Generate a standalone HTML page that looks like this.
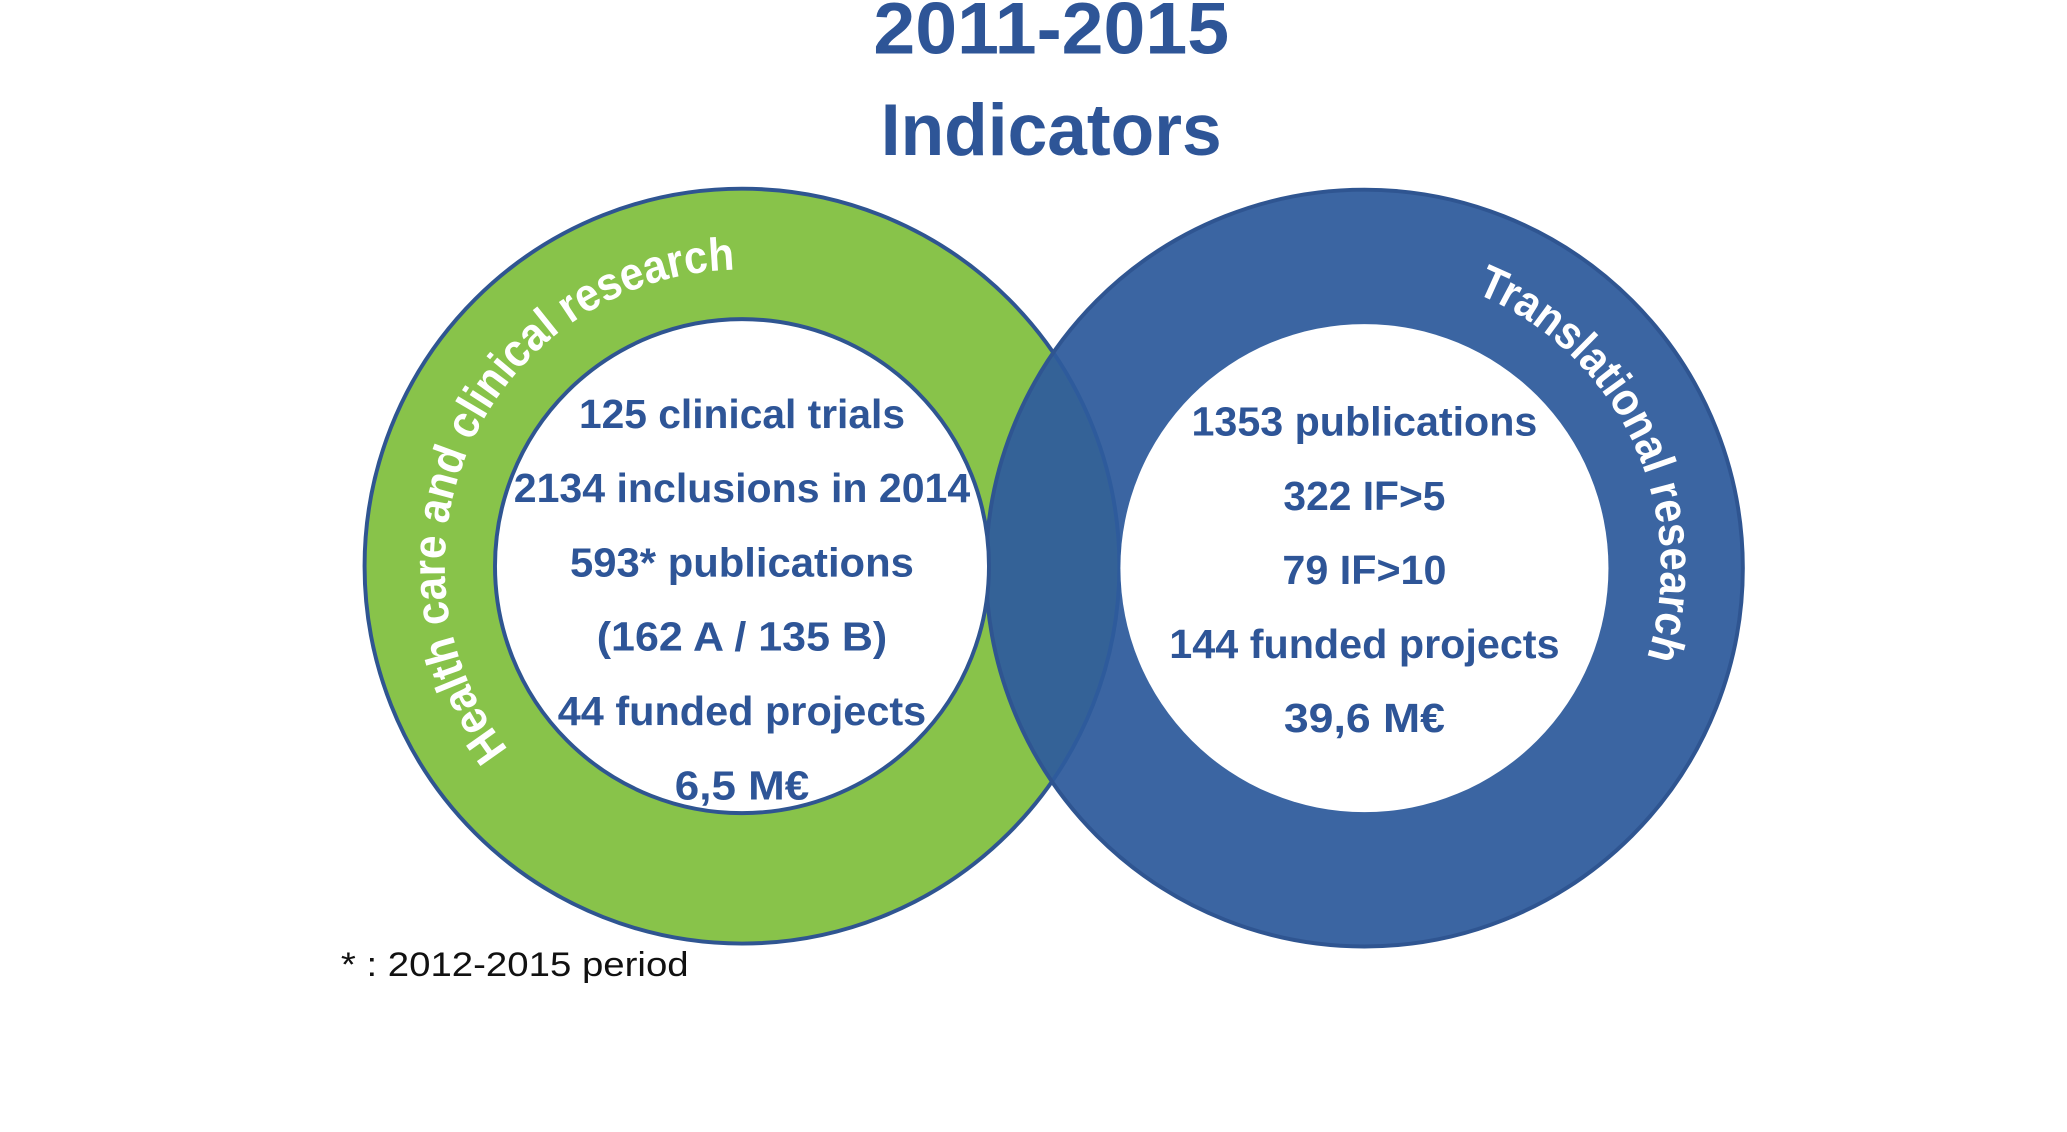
<!DOCTYPE html>
<html><head><meta charset="utf-8"><style>
html,body{margin:0;padding:0;background:#fff}
svg{display:block}
text{font-family:"Liberation Sans",sans-serif}
</style></head><body>
<svg width="2067" height="1132" viewBox="0 0 2067 1132">
<g transform="scale(0.988)">
<g font-weight="bold" fill="#2e5597" text-anchor="middle">
<text x="1064" y="54" font-size="74" textLength="360" lengthAdjust="spacingAndGlyphs">2011-2015</text>
<text x="1064" y="157" font-size="74" textLength="345" lengthAdjust="spacingAndGlyphs">Indicators</text>
</g>
<circle cx="751" cy="573" r="382" fill="#88c34a" stroke="#2f5591" stroke-width="4"/>
<circle cx="1381" cy="575" r="383" fill="#2f5b9c" fill-opacity="0.94" stroke="#2f5591" stroke-width="4"/>
<circle cx="751" cy="573" r="250" fill="#fff" stroke="#2f5591" stroke-width="4"/>
<circle cx="1381" cy="575" r="247" fill="#fff"/>
<defs>
<path id="leftArc" d="M 514.6 758.7 A 300 300 0 0 1 751 273"/>
<path id="rightArc" d="M 1493.4 296.8 A 300 300 0 0 1 1664.6 672.6"/>
</defs>
<text font-size="47" font-weight="bold" fill="#fff"><textPath href="#leftArc" startOffset="0" textLength="665" lengthAdjust="spacingAndGlyphs">Health care and clinical research</textPath></text>
<text font-size="47" font-weight="bold" fill="#fff"><textPath href="#rightArc" startOffset="0" textLength="448" lengthAdjust="spacingAndGlyphs">Translational research</textPath></text>
<g id="leftText" font-weight="bold" fill="#2e5597" text-anchor="middle" font-size="41"></g>
<g id="rightText" font-weight="bold" fill="#2e5597" text-anchor="middle" font-size="41"></g>
<text x="345" y="988" font-size="35" fill="#111" textLength="352" lengthAdjust="spacingAndGlyphs">* : 2012-2015 period</text>
</g>
</svg>
<script>
const leftLines = ["125 clinical trials","2134 inclusions in 2014","593* publications","(162 A / 135 B)","44 funded projects","6,5 M€"];
const leftWidths = [330,462,348,294,373,136];
const rightLines = ["1353 publications","322 IF>5","79 IF>10","144 funded projects","39,6 M€"];
const rightWidths = [350,164,166,395,163];
const ns="http://www.w3.org/2000/svg";
function draw(gid, lines, widths, cx, y0, dy, prefix){
  const g=document.getElementById(gid);
  lines.forEach((s,i)=>{
    const t=document.createElementNS(ns,"text");
    
    
    t.setAttribute("x",cx);t.setAttribute("y",y0+i*dy);
    t.setAttribute("textLength",widths[i]);t.setAttribute("lengthAdjust","spacingAndGlyphs");
    t.textContent=s;g.appendChild(t);
  });
}
draw("leftText",leftLines,leftWidths,751,433,75.2,"clinical");
draw("rightText",rightLines,rightWidths,1381,441,75,"translational");
</script>
</body></html>
